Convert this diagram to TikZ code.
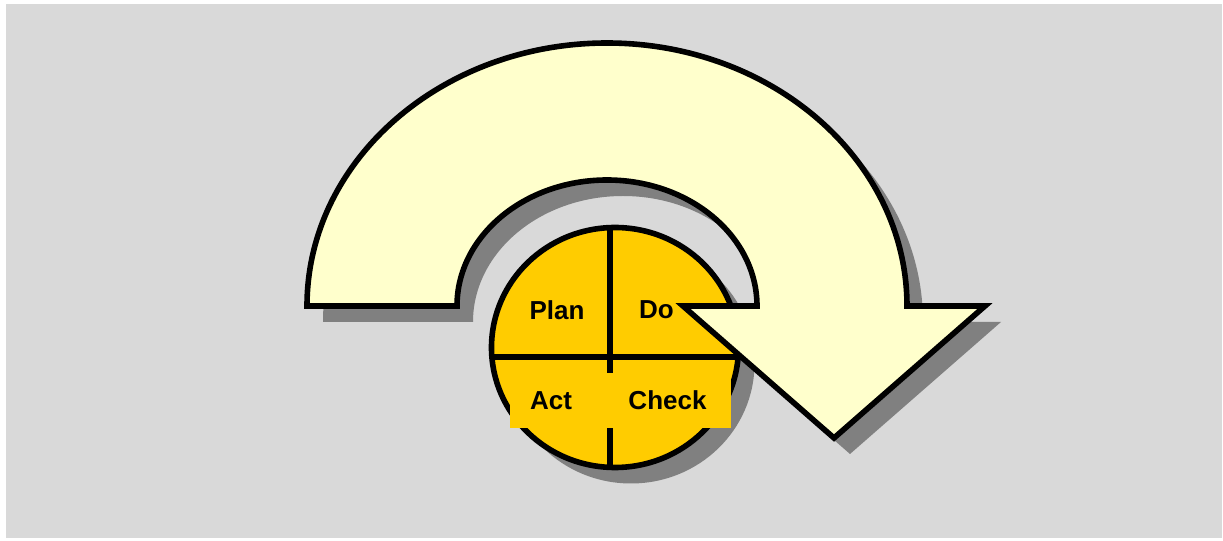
\documentclass[tikz,border=0pt]{standalone}
\usepackage{fontspec}
\setmainfont{Liberation Sans}
\definecolor{bggray}{HTML}{D9D9D9}
\definecolor{paleyellow}{HTML}{FFFFCC}
\definecolor{gold}{HTML}{FFCC00}
\definecolor{shadowgray}{HTML}{808080}
\tikzset{
  outline/.style={line width=2.8pt},
  pdca/.style={font=\fontsize{13}{15}\selectfont\bfseries, inner sep=0pt},
  pdcabox/.style={pdca, fill=gold, minimum height=27.5pt}
}
\begin{document}
\begin{tikzpicture}[x=0.5pt,y=0.5pt]
\useasboundingbox (0,0) rectangle (1223,541);
\fill[bggray] (6,3) rectangle (1222,537);
% wheel
\fill[shadowgray] (631,177.5) ellipse[x radius=123.5, y radius=120];
\fill[gold] (615,193.5) ellipse[x radius=123.5, y radius=120];
\draw[outline] (610,313.5)--(610,73.5);
\draw[outline] (491.9,184)--(738.1,184);
\node[pdca] (plan) at (557,231) {Plan};
\node[pdca] (do) at (656.5,231) {Do};
\draw[outline] (615,193.5) ellipse[x radius=123.5, y radius=120];
\node[pdcabox, minimum width=41pt] (act) at (551,140.5) {Act};
\node[pdcabox, minimum width=63pt] (check) at (667.5,140.5) {Check};
% curved arrow
\fill[shadowgray, shift={(16,-16)}] (307,235) arc[start angle=180, end angle=0, x radius=300, y radius=263]
  --(985,235)--(834,103)--(683,235)--(757,235)
  arc[start angle=0, end angle=180, x radius=150, y radius=126]--cycle;
\draw[outline, fill=paleyellow] (307,235) arc[start angle=180, end angle=0, x radius=300, y radius=263]
  --(985,235)--(834,103)--(683,235)--(757,235)
  arc[start angle=0, end angle=180, x radius=150, y radius=126]--cycle;
\end{tikzpicture}
\end{document}
